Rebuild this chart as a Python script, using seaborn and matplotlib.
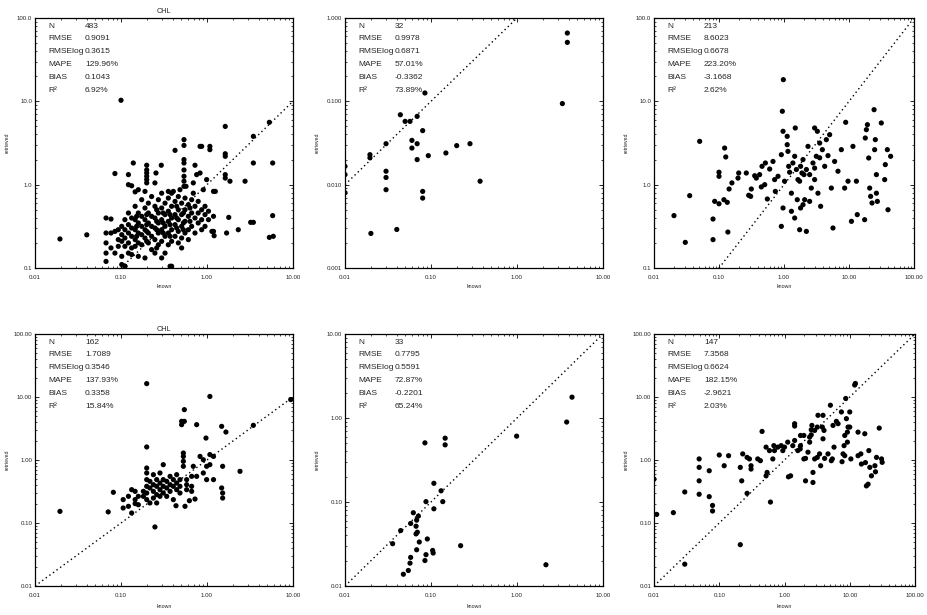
import matplotlib
matplotlib.use('Agg')
import matplotlib.pyplot as plt
import matplotlib.ticker as mticker
import seaborn as sns
import pandas as pd

# ---- stats shown in the corner of each panel ----
stat_names = ['N', 'RMSE', 'RMSElog', 'MAPE', 'BIAS', 'R²']
stats1 = ['483', '0.9091', '0.3615', '129.96%', '0.1043', '6.92%']
stats2 = ['32', '0.9978', '0.6871', '57.01%', '-0.3362', '73.89%']
stats3 = ['213', '8.6023', '0.6678', '223.20%', '-3.1668', '2.62%']
stats4 = ['162', '1.7089', '0.3546', '137.93%', '0.3358', '15.84%']
stats5 = ['33', '0.7795', '0.5591', '72.87%', '-0.2201', '65.24%']
stats6 = ['147', '7.3568', '0.6624', '182.15%', '-2.9621', '2.03%']

# ---- tick labels ----
xt_10 = [0.01, 0.1, 1, 10]
xl_10 = ['0.01', '0.10', '1.00', '10.00']
xt_100 = [0.01, 0.1, 1, 10, 100]
xl_100 = ['0.01', '0.10', '1.00', '10.00', '100.00']
yt_a = [0.1, 1, 10, 100]
yl_a = ['0.1', '1.0', '10.0', '100.0']
yt_b = [0.001, 0.01, 0.1, 1]
yl_b = ['0.001', '0.010', '0.100', '1.000']
yt_c = [0.01, 0.1, 1, 10, 100]
yl_c = ['0.01', '0.10', '1.00', '10.00', '100.00']
yt_d = [0.01, 0.1, 1, 10]
yl_d = ['0.01', '0.10', '1.00', '10.00']

# ---- panel 1 (top left) ----
p1_known = [
    0.067, 0.067, 0.067, 0.067, 0.067,
    0.0765, 0.0765, 0.0765,
    0.085, 0.085,
    0.093, 0.093, 0.093,
    0.102, 0.102, 0.102, 0.102, 0.102,
    0.111, 0.111, 0.111, 0.111, 0.111,
    0.122, 0.122, 0.122, 0.122, 0.122,
    0.133, 0.133, 0.133, 0.133, 0.133,
    0.146, 0.146, 0.146, 0.146, 0.146,
    0.159, 0.159, 0.159, 0.159, 0.159,
    0.174, 0.174, 0.174, 0.174, 0.174,
    0.19, 0.19, 0.19, 0.19, 0.19,
    0.208, 0.208, 0.208, 0.208, 0.208,
    0.227, 0.227, 0.227, 0.227, 0.227,
    0.248, 0.248, 0.248, 0.248, 0.248,
    0.272, 0.272, 0.272, 0.272, 0.272,
    0.297, 0.297, 0.297, 0.297, 0.297, 0.297,
    0.325, 0.325, 0.325, 0.325, 0.325,
    0.355, 0.355, 0.355, 0.355, 0.355,
    0.388, 0.388, 0.388, 0.388, 0.388, 0.388,
    0.425, 0.425, 0.425, 0.425,
    0.464, 0.464, 0.464, 0.464, 0.464,
    0.507, 0.507, 0.507, 0.507, 0.507,
    0.555, 0.555, 0.555, 0.555,
    0.607, 0.607, 0.607, 0.607,
    0.663, 0.663, 0.663,
    0.725, 0.725, 0.725,
    0.79, 0.79, 0.79,
    0.867, 0.867, 0.867,
    0.948, 0.948, 0.948,
    1.04, 1.04,
    1.19, 1.19,
    0.152, 0.152, 0.152,
    0.199, 0.199, 0.199, 0.199,
    0.26, 0.26, 0.26, 0.26,
    0.31, 0.31, 0.31,
    0.372, 0.372, 0.372,
    0.444, 0.444, 0.444,
    0.531, 0.531, 0.531,
    0.634, 0.634,
    0.0195, 0.04, 0.1, 5.31, 3.46, 1.63, 1.63, 1.63, 1.08, 1.08,
    0.83, 0.867, 0.54, 0.54, 0.425, 3.46, 5.8, 2.77, 1.85, 1.63,
    1.63, 1.25, 1.69, 3.46, 3.22, 5.8, 5.31, 5.9, 2.31, 1.14,
    1.21, 1.79,
    0.199, 0.199, 0.199, 0.199, 0.199, 0.199, 0.255, 0.139, 0.122, 0.085,
    0.122, 0.133, 0.146, 0.159, 0.294, 0.355, 0.406, 0.485, 0.57,
    0.54, 0.54, 0.54, 0.54, 0.54, 0.54, 0.693, 0.758, 0.83, 0.99,
    0.693, 0.906, 1.19, 0.725, 0.19, 0.248, 0.372, 0.111,
]
p1_retr = [
    0.398, 0.263, 0.2, 0.151, 0.12,
    0.387, 0.263, 0.174,
    0.275, 0.151,
    0.288, 0.219, 0.182,
    0.316, 0.251, 0.209, 0.138, 0.11,
    0.38, 0.288, 0.229, 0.182, 0.105,
    0.457, 0.331, 0.263, 0.2, 0.151,
    0.398, 0.302, 0.24, 0.174, 0.145,
    0.55, 0.38, 0.288, 0.219, 0.182,
    0.457, 0.347, 0.263, 0.2, 0.138,
    0.66, 0.417, 0.316, 0.251, 0.19,
    0.525, 0.38, 0.288, 0.229, 0.132,
    0.6, 0.457, 0.347, 0.263, 0.2,
    0.72, 0.417, 0.316, 0.24, 0.166,
    0.55, 0.398, 0.302, 0.219, 0.151,
    0.66, 0.457, 0.347, 0.263, 0.19,
    0.79, 0.525, 0.38, 0.288, 0.209, 0.132,
    0.6, 0.437, 0.316, 0.24, 0.151,
    0.69, 0.48, 0.363, 0.263, 0.19,
    0.79, 0.55, 0.398, 0.288, 0.209, 0.105,
    0.63, 0.437, 0.331, 0.24,
    0.72, 0.5, 0.38, 0.275, 0.2,
    0.6, 0.437, 0.316, 0.229, 0.174,
    0.69, 0.5, 0.363, 0.263,
    0.575, 0.417, 0.288, 0.219,
    0.66, 0.457, 0.316,
    0.55, 0.398, 0.263,
    0.63, 0.457, 0.347,
    0.5, 0.38, 0.288,
    0.55, 0.437, 0.316,
    0.48, 0.38,
    0.417, 0.275,
    0.417, 0.316, 0.24,
    0.437, 0.331, 0.275, 0.209,
    0.5, 0.363, 0.288, 0.174,
    0.457, 0.347, 0.263,
    0.437, 0.331, 0.24,
    0.55, 0.398, 0.302,
    0.457, 0.347, 0.288,
    0.525, 0.363,
    0.223, 0.25, 10.3, 5.6, 3.8, 5.0, 2.19, 2.35, 2.88, 2.63,
    2.88, 2.88, 3.47, 2.96, 2.58, 1.82, 1.82, 1.1, 1.1, 1.32,
    1.2, 0.83, 0.263, 0.353, 0.353, 0.425, 0.233, 0.24, 0.288, 0.275,
    0.244, 0.405,
    1.71, 1.5, 1.38, 1.26, 1.15, 1.05, 1.38, 1.82, 1.32, 1.36,
    1.0, 0.97, 0.82, 0.87, 1.71, 0.83, 0.83, 0.87, 0.955,
    1.82, 2.0, 1.5, 1.26, 1.1, 0.955, 1.05, 1.32, 1.38, 1.15,
    0.79, 0.87, 0.83, 1.71, 0.83, 1.05, 0.105, 0.105,
]

# ---- panel 2 (top middle) ----
p2_known = [3.85, 3.85, 3.37, 0.085, 0.044, 0.05, 0.057, 0.069, 0.08, 0.06,
            0.06, 0.069, 0.069, 0.093, 0.149, 0.199, 0.284, 0.372, 0.03, 0.0195,
            0.0195, 0.03, 0.03, 0.03, 0.08, 0.08, 0.02, 0.04, 0.01, 0.01, 0.01]
p2_retr = [0.66, 0.51, 0.094, 0.126, 0.069, 0.0575, 0.0575, 0.066, 0.0445, 0.034,
           0.0275, 0.031, 0.02, 0.0223, 0.024, 0.0294, 0.031, 0.011, 0.031, 0.0229,
           0.021, 0.0145, 0.0122, 0.0087, 0.0083, 0.0069, 0.0026, 0.0029, 0.0166, 0.0132, 0.008]

# ---- panel 3 (top right) ----
p3_known = [0.0203, 0.0303, 0.0354, 0.0504, 0.0809, 0.0809, 0.0858, 0.1, 0.1, 0.1,
            0.119, 0.122, 0.127, 0.134, 0.137, 0.143, 0.158, 0.196, 0.201, 0.263,
            0.286, 0.307, 0.314, 0.354, 0.375, 0.422, 0.448, 0.459, 0.505, 0.517,
            0.554, 0.602, 0.677, 0.718, 0.736, 0.809, 0.91, 0.943, 0.977, 0.966,
            0.91, 0.966, 1.02, 1.15, 1.22, 1.3, 1.12, 1.12, 1.3, 1.46,
            1.49, 1.46, 1.64, 1.8, 1.89, 1.96, 1.96, 2.08, 2.21, 1.74,
            2.34, 2.48, 2.63, 2.96, 3.14, 3.26, 3.33, 3.66, 3.89, 4.23,
            4.48, 4.75, 5.04, 5.35, 6.01, 6.77, 7.62, 8.89, 8.57, 9.66,
            10.9, 11.5, 13.0, 13.4, 17.4, 17.8, 18.5, 19.2, 20.1, 20.8,
            21.5, 22.6, 24.3, 24.8, 25.4, 26.4, 26.4, 27.3, 31.4, 35.4,
            36.2, 38.9, 43.7, 39.8,
            1.18, 1.37, 1.55, 1.74, 2.03, 2.21, 2.79, 2.96, 3.54, 2.48,
            1.8, 1.6, 2.96, 3.54, 5.67]
p3_retr = [0.425, 0.203, 0.738, 3.31, 0.387, 0.219, 0.631, 1.41, 1.26, 0.59,
           0.66, 2.75, 2.15, 0.614, 0.27, 0.887, 1.05, 1.2, 1.38, 1.38,
           0.745, 0.724, 0.887, 1.28, 1.2, 1.32, 0.94, 1.66, 1.0, 1.82,
           0.673, 1.54, 1.9, 1.15, 0.83, 1.26, 2.29, 7.6, 18.2, 4.37,
           0.316, 0.525, 1.1, 2.51, 1.41, 0.79, 3.02, 3.8, 0.479, 2.19,
           4.79, 0.398, 1.15, 1.66, 1.38, 2.0, 0.575, 0.66, 0.275, 0.288,
           2.88, 1.32, 0.91, 1.58, 2.19, 4.37, 0.79, 0.55, 2.63, 1.66,
           3.47, 2.23, 3.98, 0.91, 1.9, 1.45, 2.63, 5.6, 0.91, 1.1,
           0.363, 2.88, 1.1, 0.437, 0.38, 3.63, 4.57, 5.25, 2.09, 0.91,
           0.724, 0.603, 7.94, 2.63, 3.47, 1.32, 0.79, 0.63, 5.5, 1.15,
           1.74, 2.63, 2.19, 0.5,
           1.66, 1.82, 1.52, 1.1, 1.32, 1.52, 1.82, 1.15, 2.1, 0.63,
           0.525, 0.66, 4.79, 3.16, 0.302]

# ---- panel 4 (bottom left) ----
p4_known = [0.0195, 0.071, 0.0815, 0.199, 0.199, 1.08, 9.4, 3.46, 1.48, 1.66,
            0.758, 0.507, 0.507, 0.545, 0.545, 0.973, 2.42, 1.52, 1.52, 1.48,
            1.52, 0.531, 0.531, 0.531, 0.531,
            0.199, 0.199, 0.199, 0.199, 0.199, 0.199,
            0.248, 0.436, 0.555, 0.624, 0.99, 1.08, 1.19, 0.906, 0.83, 1.08,
            0.758, 0.725, 0.99, 0.906, 1.19,
            0.106, 0.106, 0.122, 0.122, 0.133, 0.133,
            0.146, 0.146, 0.146, 0.159, 0.159, 0.182, 0.182,
            0.217, 0.217, 0.217, 0.238, 0.238, 0.238, 0.238,
            0.26, 0.26, 0.26, 0.26, 0.284, 0.284, 0.284, 0.284,
            0.31, 0.31, 0.31, 0.31, 0.34, 0.34, 0.34,
            0.372, 0.372, 0.372, 0.406, 0.406, 0.406,
            0.444, 0.444, 0.444, 0.485, 0.485, 0.485,
            0.58, 0.58, 0.58, 0.663, 0.663, 0.663, 0.693]
p4_retr = [0.153, 0.15, 0.307, 16.3, 1.61, 10.2, 9.1, 3.55, 3.42, 2.78,
           3.64, 3.64, 4.11, 4.11, 6.3, 2.23, 0.661, 0.299, 0.249, 0.36,
           0.794, 1.29, 1.14, 0.953, 0.794,
           0.746, 0.622, 0.488, 0.382, 0.299, 0.235,
           0.0865, 0.188, 0.184, 0.226, 0.794, 0.843, 1.14, 1.01, 1.14, 1.22,
           0.55, 0.24, 0.488, 0.622, 0.488,
           0.235, 0.173, 0.265, 0.184, 0.338, 0.144,
           0.318, 0.235, 0.203, 0.265, 0.195, 0.318, 0.265,
           0.458, 0.36, 0.208, 0.585, 0.406, 0.318, 0.249,
           0.488, 0.382, 0.282, 0.208, 0.622, 0.431, 0.338, 0.265,
           0.843, 0.488, 0.382, 0.299, 0.458, 0.36, 0.265,
           0.55, 0.406, 0.318, 0.488, 0.382, 0.235,
           0.585, 0.431, 0.338, 0.488, 0.382, 0.299,
           0.488, 0.406, 0.338, 0.55, 0.382, 0.318, 0.794]

# ---- panel 5 (bottom middle) ----
p5_known = [4.36, 3.78, 0.99, 0.085, 0.146, 0.146, 0.108, 0.131, 0.137, 0.0874,
            0.108, 0.0623, 0.0713, 0.0681, 0.058, 0.067, 0.0444, 0.0694, 0.067, 0.0358,
            0.0906, 0.0731, 0.0681, 0.1045, 0.106, 0.0874, 0.085, 0.221, 2.17, 0.058,
            0.057, 0.0545, 0.0477]
p5_retr = [1.77, 0.895, 0.608, 0.506, 0.575, 0.479, 0.167, 0.136, 0.101, 0.101,
           0.083, 0.0745, 0.068, 0.0608, 0.0555, 0.0515, 0.0457, 0.0437, 0.0417, 0.0319,
           0.0363, 0.0334, 0.027, 0.0265, 0.0247, 0.0236, 0.0201, 0.0302, 0.0179, 0.0219,
           0.0187, 0.0153, 0.0138]

# ---- panel 6 (bottom right) ----
p6_known = [0.011, 0.01, 0.0198, 0.0296, 0.0296, 0.0492, 0.0492, 0.0492, 0.0492, 0.0702,
            0.0702, 0.0789, 0.0789, 0.1, 0.119, 0.139, 0.21, 0.21, 0.221, 0.229,
            0.267, 0.267, 0.29, 0.307, 0.307, 0.389, 0.427, 0.453, 0.522, 0.522,
            0.541, 0.609, 0.662, 0.588, 0.686, 0.702, 0.789, 0.889, 0.942, 1.0,
            1.12, 1.15, 1.24, 1.34, 1.43, 1.43, 1.43, 1.6, 1.74, 1.76,
            1.76, 1.98, 1.98, 2.1, 2.1, 2.29, 2.43, 2.43, 2.57, 2.57,
            2.63, 2.73, 2.73, 2.9, 2.9, 3.18, 3.18, 3.26, 3.45, 3.58,
            3.8, 3.89, 3.89, 4.03, 4.12, 4.64, 5.22, 5.41, 5.05, 5.54,
            5.74, 6.24, 6.62, 7.45, 7.62, 7.89, 8.18, 8.38, 8.38, 8.67,
            8.89, 9.2, 9.2, 9.42, 10.0, 10.0, 10.4, 11.9, 12.2, 13.4,
            14.8, 15.1, 17.0, 17.4, 18.0, 19.1, 19.6, 20.3, 21.5, 24.3,
            24.8, 25.7, 28.3, 30.7, 31.4, 13.4]
p6_retr = [0.137, 0.497, 0.146, 0.311, 0.0222, 1.04, 0.764, 0.467, 0.286, 0.675,
           0.262, 0.19, 0.155, 1.2, 0.811, 1.17, 0.0453, 0.764, 0.467, 1.25,
           1.1, 0.296, 1.04, 0.718, 0.811, 1.04, 0.975, 2.84, 1.6, 0.561,
           0.635, 0.215, 1.04, 1.41, 1.69, 1.41, 1.6, 1.69, 1.41, 1.6,
           1.92, 0.541, 0.561, 1.69, 2.04, 3.77, 3.46, 1.41, 1.5, 1.69,
           2.45, 2.45, 1.04, 1.06, 0.467, 1.33, 1.92, 2.31, 2.51, 3.02,
           3.54, 0.635, 0.44, 2.95, 1.04, 3.33, 1.1, 5.12, 1.25, 0.811,
           3.33, 5.12, 2.17, 2.95, 1.06, 1.25, 0.975, 1.04, 7.4, 3.54,
           1.6, 4.1, 3.77, 5.79, 0.94, 1.25, 1.69, 2.45, 1.17, 9.47,
           4.53, 1.92, 2.77, 3.33, 5.79, 3.33, 1.04, 15.5, 16.4, 2.77,
           1.25, 0.863, 2.61, 0.91, 0.388, 0.413, 1.41, 0.764, 0.561, 0.811,
           0.65, 1.1, 3.21, 1.04, 0.918, 1.17]

panels = [
    dict(known=p1_known, retr=p1_retr, stats=stats1, xlim=(0.01, 10), ylim=(0.1, 100),
         xt=xt_10, xl=xl_10, yt=yt_a, yl=yl_a, title='CHL'),
    dict(known=p2_known, retr=p2_retr, stats=stats2, xlim=(0.01, 10), ylim=(0.001, 1),
         xt=xt_10, xl=xl_10, yt=yt_b, yl=yl_b, title=''),
    dict(known=p3_known, retr=p3_retr, stats=stats3, xlim=(0.01, 100), ylim=(0.1, 100),
         xt=xt_100, xl=xl_100, yt=yt_a, yl=yl_a, title=''),
    dict(known=p4_known, retr=p4_retr, stats=stats4, xlim=(0.01, 10), ylim=(0.01, 100),
         xt=xt_10, xl=xl_10, yt=yt_c, yl=yl_c, title='CHL'),
    dict(known=p5_known, retr=p5_retr, stats=stats5, xlim=(0.01, 10), ylim=(0.01, 10),
         xt=xt_10, xl=xl_10, yt=yt_d, yl=yl_d, title=''),
    dict(known=p6_known, retr=p6_retr, stats=stats6, xlim=(0.01, 100), ylim=(0.01, 100),
         xt=xt_100, xl=xl_100, yt=yt_c, yl=yl_c, title=''),
]

sns.set_style('ticks')
plt.rcParams['font.family'] = ['Liberation Sans', 'DejaVu Sans']

W, H = 928, 615
fig = plt.figure(figsize=(W / 100, H / 100), dpi=100)

# axes boxes in pixels: left, top, right, bottom
boxes = [(35, 18, 293, 268), (345, 18, 603, 268), (654, 18, 914, 268),
         (35, 334, 293, 586), (345, 334, 603, 586), (654, 334, 915, 586)]

for i, (p, (l, t, r, b)) in enumerate(zip(panels, boxes)):
    ax = fig.add_axes([l / W, 1 - b / H, (r - l) / W, (b - t) / H])
    df = pd.DataFrame({'known': p['known'], 'retrieved': p['retr']})
    sns.scatterplot(data=df, x='known', y='retrieved', ax=ax, color='black',
                    s=14, edgecolor='none', linewidth=0, zorder=3)
    ax.set_xscale('log')
    ax.set_yscale('log')
    ax.set_xlim(p['xlim'])
    ax.set_ylim(p['ylim'])
    ax.axline((1, 1), (10, 10), color='black', linestyle=(0, (1, 2.2)), linewidth=1)

    ax.set_xticks(p['xt'])
    ax.set_xticklabels(p['xl'])
    ax.set_yticks(p['yt'])
    ax.set_yticklabels(p['yl'])
    ax.xaxis.set_minor_formatter(mticker.NullFormatter())
    ax.yaxis.set_minor_formatter(mticker.NullFormatter())
    ax.tick_params(which='both', direction='in', top=True, right=True,
                   color='black', labelsize=4.4)
    ax.tick_params(which='major', length=3, width=0.6)
    ax.tick_params(which='minor', length=1.6, width=0.5)
    ax.tick_params(axis='x', pad=5)
    ax.tick_params(axis='y', pad=2)
    for s in ax.spines.values():
        s.set_color('black')
        s.set_linewidth(0.9)

    ax.set_xlabel('known', fontsize=3.8)
    ax.set_ylabel('retrieved', fontsize=3.8)
    ax.xaxis.set_label_coords(0.5, -0.066 if i < 3 else -0.071)
    ax.yaxis.set_label_coords(-25 / (r - l), 0.5)
    if p['title']:
        ax.set_title(p['title'], fontsize=5.2, pad=3.5 if i < 3 else 2.5)

    hpx = b - t
    for j, (name, val) in enumerate(zip(stat_names, p['stats'])):
        y = 1 - (8 + 12.9 * j) / hpx
        ax.text(13 / (r - l), y, name, transform=ax.transAxes, fontsize=6,
                va='center', ha='left')
        ax.text(50 / (r - l), y, val, transform=ax.transAxes, fontsize=6,
                va='center', ha='left')

fig.savefig('out.png', dpi=100)
